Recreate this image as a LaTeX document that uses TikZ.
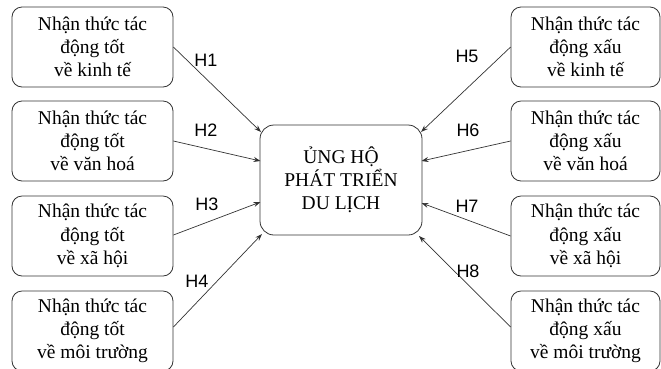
\documentclass[tikz,border=0pt]{standalone}
\usepackage{fontspec}
\setmainfont{Liberation Serif}
\newfontfamily\labelfont{Liberation Sans}
\usetikzlibrary{arrows.meta}
\definecolor{edge}{HTML}{333333}
\tikzset{
  factor/.style={draw=edge, line width=0.8pt, rounded corners=10pt,
    minimum width=161pt, minimum height=80pt, inner sep=0pt,
    align=center, font=\fontsize{19.5}{23.2}\selectfont},
  narrow/.style={factor, minimum width=149pt},
  core/.style={factor, minimum width=162pt, minimum height=110pt, rounded corners=14pt},
  link/.style={draw=edge, line width=0.7pt, -{Stealth[length=7pt,width=5pt]}},
  hlabel/.style={font=\labelfont\fontsize{18}{20}\selectfont, inner sep=0pt}
}
\begin{document}
\begin{tikzpicture}[x=1pt,y=-1pt]
\useasboundingbox (0,0) rectangle (661,368);
\clip (0,0) rectangle (661,368);
% positive impacts (left column)
\node[factor] (l1) at (92.5,47)  {Nhận thức tác\\động tốt\\về kinh tế};
\node[factor] (l2) at (92.5,141) {Nhận thức tác\\động tốt\\về văn hoá};
\node[factor] (l3) at (92.5,236) {Nhận thức tác\\động tốt\\về xã hội};
\node[factor] (l4) at (92.5,331) {Nhận thức tác\\động tốt\\về môi trường};
% negative impacts (right column)
\node[narrow] (r1) at (585.5,47)  {Nhận thức tác\\động xấu\\về kinh tế};
\node[narrow] (r2) at (585.5,141) {Nhận thức tác\\động xấu\\về văn hoá};
\node[narrow] (r3) at (585.5,236) {Nhận thức tác\\động xấu\\về xã hội};
\node[narrow] (r4) at (585.5,331) {Nhận thức tác\\động xấu\\về môi trường};
% outcome
\node[core] (c) at (341,180) {ỦNG HỘ\\PHÁT TRIỂN\\DU LỊCH};
% arrow targets on the outcome box
\coordinate (a1) at (261,132);
\coordinate (a2) at (260.5,161);
\coordinate (a3) at (260.5,202);
\coordinate (a4) at (262,234);
\coordinate (b1) at (421,132);
\coordinate (b2) at (421.5,161);
\coordinate (b3) at (421.5,203);
\coordinate (b4) at (419,236);
\draw[link] (l1.east) -- (a1);
\draw[link] (l2.east) -- (a2);
\draw[link] ([yshift=1pt]l3.east) -- (a3);
\draw[link] ([yshift=4pt]l4.east) -- (a4);
\draw[link] (r1.west) -- (b1);
\draw[link] (r2.west) -- (b2);
\draw[link] (r3.west) -- (b3);
\draw[link] ([yshift=4pt]r4.west) -- (b4);
% hypothesis labels
\node[hlabel] (h1) at (206,60)  {H1};
\node[hlabel] (h2) at (206,130) {H2};
\node[hlabel] (h3) at (207,204) {H3};
\node[hlabel] (h4) at (197,281) {H4};
\node[hlabel] (h5) at (467,56)  {H5};
\node[hlabel] (h6) at (468,130) {H6};
\node[hlabel] (h7) at (467,206) {H7};
\node[hlabel] (h8) at (468,271) {H8};
\end{tikzpicture}
\end{document}
